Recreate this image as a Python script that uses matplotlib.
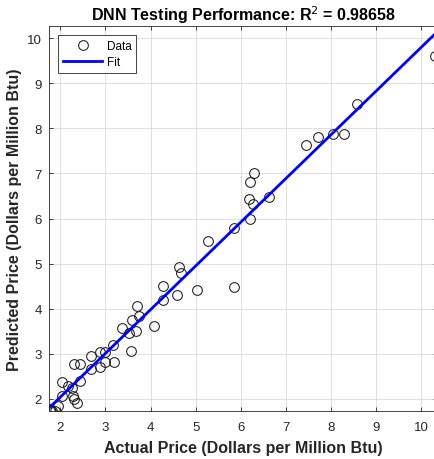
import numpy as np
import matplotlib
matplotlib.use("Agg")
import matplotlib.pyplot as plt

# actual vs predicted prices
actual = [10.3, 8.58, 7.44, 7.71, 8.04, 8.29, 6.29, 6.2, 6.18, 6.27,
          6.62, 6.2, 5.84, 5.27, 4.64, 4.67, 4.27, 4.27, 4.58, 5.02,
          5.84, 3.71, 3.74, 3.6, 4.07, 3.36, 3.67, 3.53, 3.56, 3.16,
          2.89, 3.0, 2.67, 3.18, 3.0, 2.89, 2.67, 2.31, 2.44, 2.44,
          2.04, 2.18, 2.27, 2.04, 2.29, 2.31, 2.36, 1.96, 1.78, 1.82, 1.89]
predicted = [9.6, 8.53, 7.62, 7.8, 7.87, 7.87, 7.02, 6.8, 6.44, 6.33,
             6.47, 6.0, 5.78, 5.49, 4.93, 4.8, 4.51, 4.2, 4.31, 4.42,
             4.48, 4.07, 3.84, 3.74, 3.62, 3.57, 3.51, 3.47, 3.05, 3.2,
             3.04, 3.04, 2.95, 2.82, 2.82, 2.71, 2.67, 2.78, 2.78, 2.4,
             2.38, 2.29, 2.24, 2.07, 2.07, 2.0, 1.91, 1.85, 1.78, 1.74, 1.74]
fit_slope = 0.97
fit_intercept = 0.097
r2 = "0.98658"

TXT = (0.15, 0.15, 0.15)

plt.rcParams['font.family'] = ['Liberation Sans', 'DejaVu Sans']

fig = plt.figure(figsize=(4.35, 4.6), dpi=100)
ax = fig.add_axes([49 / 435, 48 / 460, 388 / 435, 385 / 460])

ax.plot(actual, predicted, 'o', mfc='none', mec=(0.1, 0.1, 0.1), ms=7,
        mew=0.75, label='Data')
xl = np.array([1.75, 10.35])
ax.plot(xl, fit_slope * xl + fit_intercept, color=(0, 0, 1), lw=2,
        label='Fit')

ax.set_xlim(1.75, 10.35)
ax.set_ylim(1.73, 10.27)
ax.set_xticks(range(2, 11))
ax.set_yticks(range(2, 11))
ax.grid(color=(0.86, 0.86, 0.86), linewidth=0.6)
ax.set_axisbelow(True)
ax.tick_params(direction='in', top=True, right=True, length=3,
               labelsize=9.5, colors=TXT, labelcolor=TXT, width=0.6)
ax.tick_params(axis='x', pad=7)
ax.tick_params(axis='y', pad=5)
for s in ax.spines.values():
    s.set_color(TXT)
    s.set_linewidth(0.6)

ax.set_title("DNN Testing Performance: R$^2$ = " + r2, fontsize=11.5,
             fontweight='bold', pad=4)
ax.set_xlabel("Actual Price (Dollars per Million Btu)", fontsize=11.5,
              fontweight='bold', color=TXT, labelpad=5)
ax.set_ylabel("Predicted Price (Dollars per Million Btu)", fontsize=11.5,
              fontweight='bold', color=TXT, labelpad=4)

leg = ax.legend(loc='upper left', fontsize=8.5, fancybox=False,
                edgecolor=TXT, framealpha=1, borderpad=0.4,
                handlelength=3.3, handletextpad=0.4, labelspacing=0.35,
                borderaxespad=0.8)
leg.get_frame().set_linewidth(0.6)

fig.savefig("out.png", dpi=100)
